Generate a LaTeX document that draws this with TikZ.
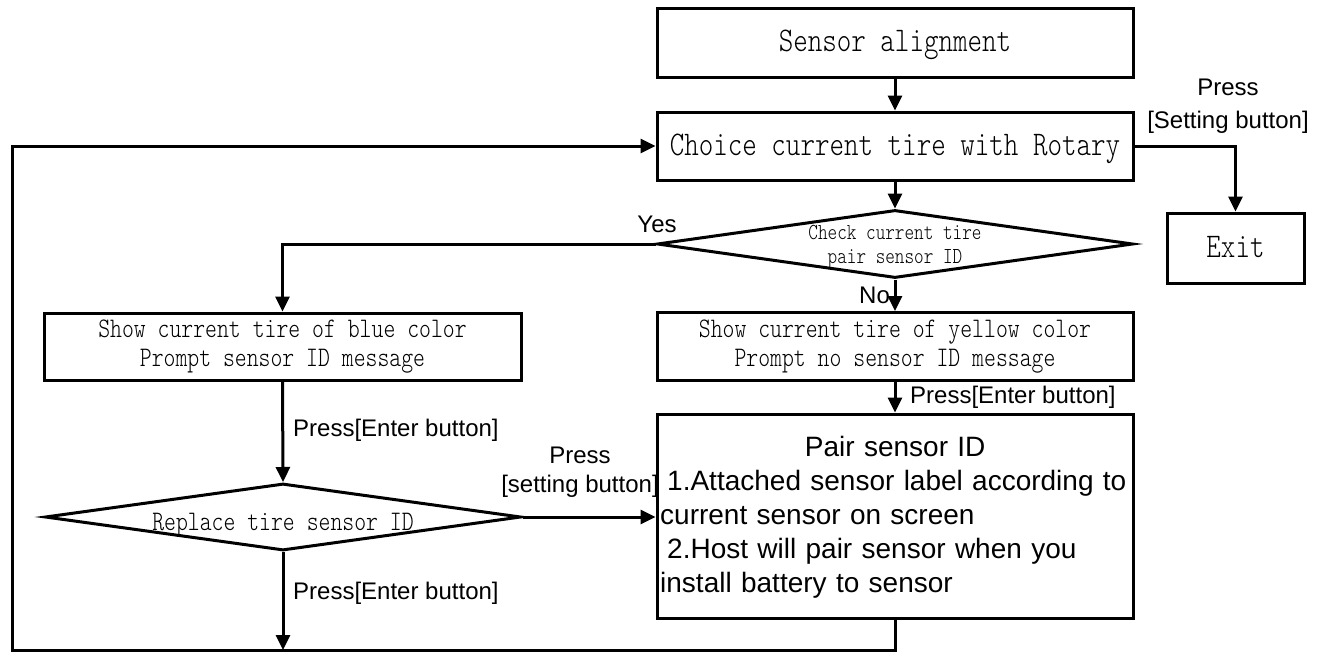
\documentclass[tikz,border=0pt]{standalone}
\usepackage{fontspec}
\setmainfont{Liberation Sans}
\newfontfamily\boxfont{lmmonolt10-regular.otf}[FakeStretch=0.8]
\usetikzlibrary{arrows.meta,shapes.geometric}
\tikzset{
  boxnode/.style={draw=black, line width=3pt, rectangle, inner sep=0pt, align=center, fill=white},
  bigbox/.style={boxnode, font=\boxfont\fontsize{34.6}{40}\selectfont, text height=24pt, text depth=6pt},
  midbox/.style={boxnode, font=\boxfont\fontsize{28.3}{29}\selectfont},
  decision/.style={draw=black, line width=3pt, diamond, inner sep=0pt, fill=white},
  dtext/.style={inner sep=0pt, align=center},
  conn/.style={line width=3pt},
  arr/.style={conn, -{Triangle[length=15pt,width=14pt]}},
  lbl/.style={font=\fontsize{24}{28}\selectfont, inner sep=0pt},
}
\begin{document}
\begin{tikzpicture}[x=1pt,y=-1pt]
\useasboundingbox (0,0) rectangle (1326,653);

% main column
\node[bigbox, minimum width=476pt, minimum height=69pt] (sa) at (895,42.5) {Sensor alignment};
\node[bigbox, minimum width=476pt, minimum height=68pt] (choice) at (895,146) {Choice current tire with Rotary};
\node[bigbox, minimum width=137pt, minimum height=70pt] (exit) at (1235.5,248) {Exit};
\node[decision, minimum width=476pt, minimum height=68pt] (check) at (895,244) {};
\node[dtext, anchor=base, font=\boxfont\fontsize{22.9}{24}\selectfont] (checktxt) at (895,263) {Check current tire\\pair sensor ID};
\node[midbox, minimum width=477pt, minimum height=67pt] (blue) at (282.5,346.5) {Show current tire of blue color\\Prompt sensor ID message};
\node[midbox, minimum width=476pt, minimum height=68pt] (yellow) at (895,346.5) {Show current tire of yellow color\\Prompt no sensor ID message};
\node[boxnode, minimum width=476pt, minimum height=204pt] (pair) at (895,516) {};
\node[inner sep=0pt, anchor=north west, text width=470pt, align=left, font=\fontsize{28}{34}\selectfont] (pairtxt) at (660,436)
  {\makebox[470pt][c]{Pair sensor ID}\\
   \hspace*{7pt}1.Attached sensor label according to\\
   current sensor on screen\\
   \hspace*{7pt}2.Host will pair sensor when you\\
   install battery to sensor};
\node[decision, minimum width=476pt, minimum height=67pt] (replace) at (283,517) {};
\node[dtext, anchor=base, font=\boxfont\fontsize{28.3}{29}\selectfont] (replacetxt) at (283,530) {Replace tire sensor ID};

\coordinate (bl) at (12,650);

% connectors
\draw[arr] (sa) -- (choice);
\draw[arr] (choice) -- (check);
\draw[arr] (choice.east) -| (exit.north);
\draw[arr] (check.west) -| (blue.north);
\draw[arr] (check.south) -- (yellow.north);
\draw[arr] (yellow.south) -- (pair.north);
\draw[arr] (blue.south) -- (replace.north);
\draw[arr] (replace.east) -- (replace.east -| pair.west);
\draw[arr] (replace.south) -- (replace.south |- bl);
\draw[arr] (pair.south) |- (bl) |- (choice.west);

% labels
\node[lbl, anchor=base] (presstop) at (1228,95) {Press};
\node[lbl, anchor=base] (settop) at (1228,128) {[Setting button]};
\node[lbl, anchor=base] (yes) at (657,232) {Yes};
\node[lbl, anchor=base west] (no) at (859,303) {No};
\node[lbl, anchor=base west] (enter1) at (910,403) {Press[Enter button]};
\node[lbl, anchor=base west] (enter2) at (293,436) {Press[Enter button]};
\node[lbl, anchor=base] (pressmid) at (580,463) {Press};
\node[lbl, anchor=base] (setmid) at (580,492) {[setting button]};
\node[lbl, anchor=base west] (enter3) at (293,599) {Press[Enter button]};
\end{tikzpicture}
\end{document}
